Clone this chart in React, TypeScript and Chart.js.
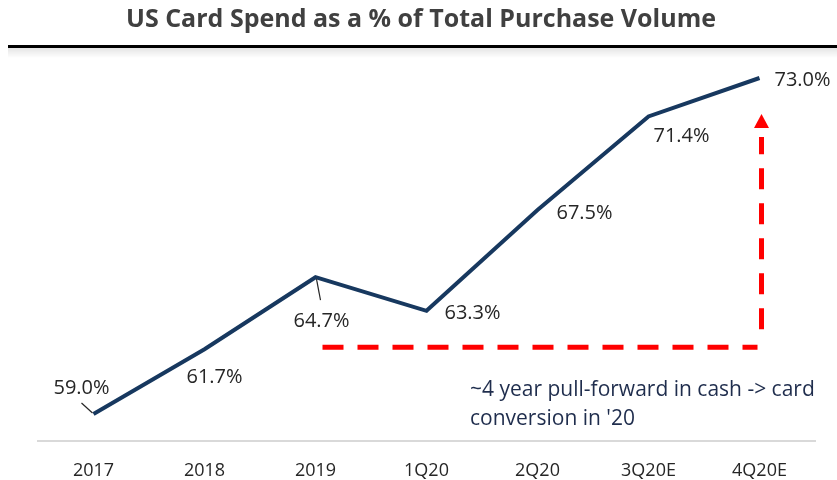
import React, { useEffect, useRef } from "react";
import { Chart, registerables } from "chart.js";

Chart.register(...registerables);

const categories = ["2017", "2018", "2019", "1Q20", "2Q20", "3Q20E", "4Q20E"];
const cardSharePct = [59.0, 61.7, 64.7, 63.3, 67.5, 71.4, 73.0];
const titleText = "US Card Spend as a % of Total Purchase Volume";
const noteLines = ["~4 year pull-forward in cash -> card", "conversion in '20"];
// label placement relative to each point (dx, dy) and whether a leader line is drawn
const labelOffsets: [number, number, boolean][] = [
  [-12, -26, true],
  [10, 28, false],
  [6, 44, true],
  [46, 2, false],
  [47, 3, false],
  [33, 20, false],
  [43, 2, false],
];
// index of the points the red pull-forward bracket spans (from 2019 level to 4Q20E)
const bracketFrom = 2;
const bracketTo = 6;

const overlayPlugin = {
  id: "overlay",
  afterDraw(chart: any) {
    const ctx = chart.ctx as CanvasRenderingContext2D;
    const meta = chart.getDatasetMeta(0);
    const w = chart.width;
    ctx.save();
    // Title
    ctx.fillStyle = "#404040";
    ctx.font = "bold 25px 'Open Sans'";
    ctx.textAlign = "center";
    ctx.textBaseline = "middle";
    ctx.fillText(titleText, 421, 20);
    // Rule with soft shadow
    const grad = ctx.createLinearGradient(0, 48, 0, 58);
    grad.addColorStop(0, "rgba(0,0,0,0.10)");
    grad.addColorStop(1, "rgba(0,0,0,0)");
    ctx.fillStyle = grad;
    ctx.fillRect(8, 48, w - 8, 10);
    ctx.fillStyle = "#000000";
    ctx.fillRect(8, 45, w - 8, 3);

    // Red dashed bracket
    const p0 = meta.data[bracketFrom];
    const p1 = meta.data[bracketTo];
    const yLow = p0.y + 70;
    const xR = p1.x + 2;
    ctx.strokeStyle = "#ff0000";
    ctx.lineWidth = 5;
    ctx.setLineDash([21, 14]);
    ctx.beginPath();
    ctx.moveTo(p0.x + 7, yLow);
    ctx.lineTo(xR - 4, yLow);
    ctx.stroke();
    ctx.beginPath();
    ctx.moveTo(xR, yLow - 18);
    ctx.lineTo(xR, p1.y + 59);
    ctx.stroke();
    ctx.setLineDash([]);
    ctx.fillStyle = "#ff0000";
    ctx.beginPath();
    ctx.moveTo(xR, p1.y + 36);
    ctx.lineTo(xR - 7.5, p1.y + 50);
    ctx.lineTo(xR + 7.5, p1.y + 50);
    ctx.closePath();
    ctx.fill();

    // Note text
    ctx.fillStyle = "#1f2d4d";
    ctx.font = "21px 'Open Sans'";
    ctx.textAlign = "left";
    ctx.textBaseline = "middle";
    ctx.fillText(noteLines[0], 470, 390);
    ctx.fillText(noteLines[1], 470, 419);

    // Data labels
    ctx.font = "20px 'Open Sans'";
    ctx.fillStyle = "#262626";
    ctx.textAlign = "center";
    meta.data.forEach((pt: any, i: number) => {
      const [dx, dy, leader] = labelOffsets[i];
      const lx = pt.x + dx;
      const ly = pt.y + dy;
      ctx.fillText(cardSharePct[i].toFixed(1) + "%", lx, ly);
      if (leader) {
        ctx.strokeStyle = "#262626";
        ctx.lineWidth = 1.2;
        ctx.beginPath();
        if (dy < 0) {
          ctx.moveTo(pt.x - 1, pt.y - 1);
          ctx.lineTo(lx - 0, ly + 15);
        } else {
          ctx.moveTo(pt.x + 1, pt.y + 2);
          ctx.lineTo(lx - 1, ly - 21);
        }
        ctx.stroke();
      }
    });
    ctx.restore();
  },
};

export default function App() {
  const ref = useRef<HTMLCanvasElement>(null);
  useEffect(() => {
    if (!ref.current) return;
    const chart = new Chart(ref.current, {
      type: "line",
      data: {
        labels: categories,
        datasets: [
          {
            data: cardSharePct,
            borderColor: "#17385f",
            borderWidth: 4,
            pointRadius: 0,
            tension: 0,
            fill: false,
          },
        ],
      },
      options: {
        animation: false,
        responsive: false,
        maintainAspectRatio: false,
        layout: { padding: { left: 38, right: 22, top: 54, bottom: 0 } },
        plugins: { legend: { display: false }, tooltip: { enabled: false }, title: { display: false } },
        scales: {
          x: {
            type: "category",
            offset: true,
            grid: { display: false, drawTicks: false },
            border: { display: true, color: "#d9d9d9", width: 2 },
            ticks: { color: "#262626", font: { size: 18, family: "'Open Sans'" }, padding: 19, maxRotation: 0 },
            afterFit: (scale: any) => {
              scale.height = 39;
            },
          },
          y: { display: false, min: 57.875, max: 74 },
        },
      },
      plugins: [overlayPlugin],
    });
    return () => chart.destroy();
  }, []);
  return (
    <div style={{ position: "fixed", left: 0, top: 0, width: 837, height: 480, background: "#fff" }}>
      <canvas ref={ref} width={837} height={480} style={{ width: 837, height: 480, display: "block" }} />
    </div>
  );
}
